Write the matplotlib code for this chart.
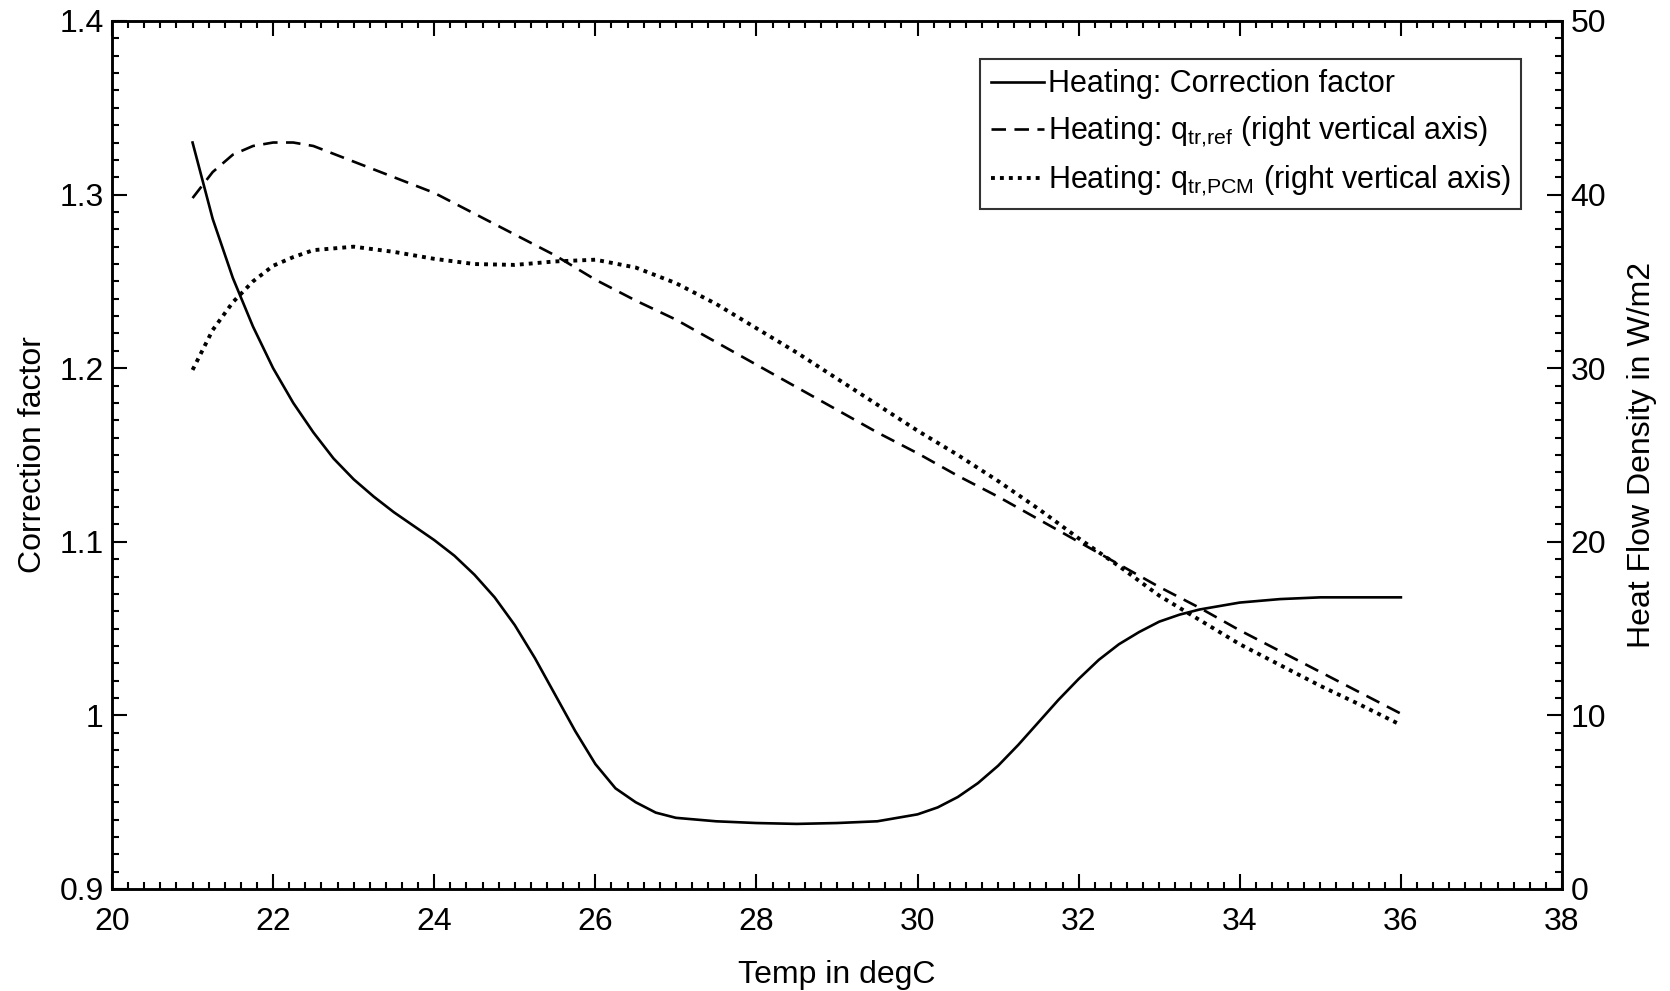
import matplotlib
matplotlib.use("Agg")
import matplotlib.pyplot as plt
from matplotlib.ticker import MultipleLocator, FuncFormatter

plt.rcParams['font.family'] = ['Liberation Sans', 'DejaVu Sans']
plt.rcParams['mathtext.fontset'] = 'custom'
plt.rcParams['mathtext.rm'] = 'Liberation Sans'
plt.rcParams['mathtext.it'] = 'Liberation Sans'

# ---- data ----
temp_cf = [21.0, 21.25, 21.5, 21.75, 22.0, 22.25, 22.5, 22.75, 23.0, 23.25, 23.5, 23.75,
           24.0, 24.25, 24.5, 24.75, 25.0, 25.25, 25.5, 25.75, 26.0, 26.25, 26.5, 26.75,
           27.0, 27.5, 28.0, 28.5, 29.0, 29.5, 29.75, 30.0, 30.25, 30.5, 30.75, 31.0,
           31.25, 31.5, 31.75, 32.0, 32.25, 32.5, 32.75, 33.0, 33.25, 33.5, 33.75, 34.0,
           34.5, 35.0, 35.5, 36.0]
correction_factor = [1.330, 1.286, 1.252, 1.224, 1.200, 1.180, 1.163, 1.148, 1.136, 1.126,
                     1.117, 1.109, 1.101, 1.092, 1.081, 1.068, 1.052, 1.033, 1.012, 0.991,
                     0.972, 0.958, 0.950, 0.944, 0.941, 0.939, 0.938, 0.9375, 0.938, 0.939,
                     0.941, 0.943, 0.947, 0.953, 0.961, 0.971, 0.983, 0.996, 1.009, 1.021,
                     1.032, 1.041, 1.048, 1.054, 1.058, 1.061, 1.063, 1.065, 1.067, 1.068,
                     1.068, 1.068]

temp_q = [21.0, 21.25, 21.5, 21.75, 22.0, 22.25, 22.5, 23.0, 23.5, 24.0, 24.5, 25.0, 25.5,
          26.0, 26.5, 27.0, 27.5, 28.0, 28.5, 29.0, 29.5, 30.0, 30.5, 31.0, 31.5, 32.0,
          32.5, 33.0, 33.5, 34.0, 34.5, 35.0, 35.5, 36.0]
q_tr_ref = [39.8, 41.3, 42.3, 42.8, 43.0, 43.0, 42.8, 41.9, 41.0, 40.1, 38.9, 37.7, 36.5,
            35.1, 33.9, 32.8, 31.5, 30.2, 28.9, 27.6, 26.3, 25.1, 23.8, 22.6, 21.3, 20.0,
            18.7, 17.4, 16.2, 14.9, 13.7, 12.5, 11.3, 10.1]
q_tr_pcm = [29.9, 32.2, 33.8, 35.0, 35.9, 36.4, 36.8, 37.0, 36.7, 36.3, 36.0, 35.95, 36.15,
            36.25, 35.8, 34.9, 33.7, 32.3, 30.9, 29.4, 27.9, 26.4, 25.0, 23.5, 21.9, 20.2,
            18.6, 16.9, 15.5, 14.1, 12.9, 11.7, 10.6, 9.45]

labels = ['Heating: Correction factor',
          r'Heating: q$_{\mathrm{tr{,}ref}}$ (right vertical axis)',
          r'Heating: q$_{\mathrm{tr{,}PCM}}$ (right vertical axis)']

FS = 23

fig = plt.figure(figsize=(16.7, 9.91), dpi=100)
ax = fig.add_axes([112/1670, 1-889/991, 1450/1670, 868/991])
ax2 = ax.twinx()

l1, = ax.plot(temp_cf, correction_factor, color='black', lw=1.9, linestyle='-')
l2, = ax2.plot(temp_q, q_tr_ref, color='black', lw=1.9, linestyle=(0, (5.5, 3.2)))
l3, = ax2.plot(temp_q, q_tr_pcm, color='black', lw=2.8, linestyle=(0, (1, 1.3)))

ax.set_xlim(20, 38)
ax.set_ylim(0.9, 1.4)
ax2.set_ylim(0, 50)

ax.xaxis.set_major_locator(MultipleLocator(2))
ax.xaxis.set_minor_locator(MultipleLocator(0.2))
ax.yaxis.set_major_locator(MultipleLocator(0.1))
ax.yaxis.set_minor_locator(MultipleLocator(0.01))
ax2.yaxis.set_major_locator(MultipleLocator(10))
ax2.yaxis.set_minor_locator(MultipleLocator(1))

def fmt_left(v, pos):
    s = '%.1f' % v
    if s == '1.0':
        return '1'
    return s
ax.yaxis.set_major_formatter(FuncFormatter(fmt_left))

ax.tick_params(axis='both', which='both', direction='in', top=True, right=False,
               labelsize=FS, width=1.5, colors='black')
ax.tick_params(axis='x', which='major', length=11, pad=13)
ax.tick_params(axis='y', which='major', length=11, pad=6)
ax.tick_params(which='minor', length=5)
ax2.tick_params(axis='y', which='both', direction='in', labelsize=FS, width=1.5)
ax2.tick_params(axis='y', which='major', length=11, pad=6)
ax2.tick_params(axis='y', which='minor', length=5)

for a in (ax, ax2):
    for s in a.spines.values():
        s.set_linewidth(1.8)
        s.set_color('black')

ax.set_xlabel('Temp in degC', fontsize=FS)
ax.set_ylabel('Correction factor', fontsize=FS)
ax2.set_ylabel('Heat Flow Density in W/m2', fontsize=FS)
ax.xaxis.set_label_coords(0.5, -0.082)
ax.yaxis.set_label_coords(-0.044, 0.5)
ax2.yaxis.set_label_coords(1.045, 0.5)

leg = ax.legend([l1, l2, l3], labels, loc='upper right',
                bbox_to_anchor=(0.9717, 0.9567), borderaxespad=0,
                fontsize=FS - 1, frameon=True, fancybox=False, edgecolor='black',
                handlelength=1.75, handletextpad=0.1, labelspacing=0.5,
                borderpad=0.35)
leg.get_frame().set_linewidth(1.5)
leg.set_zorder(5)

fig.savefig('out.png', dpi=100, facecolor='white')
